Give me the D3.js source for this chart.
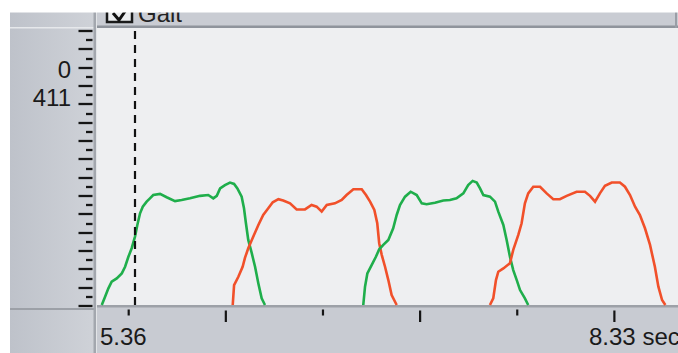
<!DOCTYPE html>
<html><head><meta charset="utf-8">
<script src="https://cdn.jsdelivr.net/npm/d3@7"></script>
<style>html,body{margin:0;padding:0;background:#fff;}svg{display:block;font-family:"Liberation Sans",Arial,sans-serif;}</style>
</head><body>
<svg id="chart" width="678" height="353"></svg>
<script>
// ---- data (time in seconds, amplitude in % of panel height) ----
const xDomain = [5.36, 8.33];
const xEdgeLabels = ["5.36", "8.33 sec"];
const xHalfTicks = [5.5, 6.0, 6.5, 7.0, 7.5, 8.0];
const rulerTicks = d3.range(0, 31);
const yLabels = ["0", "411"];
const yLabelAt = [26, 23];
const headerTitle = "Gait";
const cursorTime = 5.535;

const greenT1 = [5.364,5.381,5.398,5.415,5.441,5.467,5.484,5.501,5.518,5.535,5.547,5.561,5.575,5.595,5.612,5.629,5.664,5.698,5.741,5.775,5.818,5.870,5.912,5.938,5.956,5.973,5.998,6.024,6.045,6.062,6.084,6.096,6.106,6.118,6.136,6.153,6.170,6.187,6.204];
const greenV1 = [0,3.0,6.0,8.4,9.6,11.4,13.8,17.4,20.5,24.7,28.9,33.1,35.5,37.3,38.5,39.7,40.1,38.9,37.5,37.9,38.5,39.4,39.7,38.5,39.4,42.1,43.3,44.2,43.7,42.1,39.1,34.9,29.5,23.5,18.7,13.8,7.8,2.4,0];
const redT1 = [6.038,6.045,6.067,6.089,6.101,6.118,6.144,6.170,6.195,6.221,6.244,6.273,6.298,6.333,6.367,6.410,6.444,6.470,6.496,6.522,6.564,6.599,6.624,6.659,6.702,6.724,6.745,6.767,6.782,6.792,6.805,6.822,6.839,6.856,6.882];
const redV1 = [0,7.2,10.2,13.8,17.0,20.5,24.7,28.9,32.5,34.9,37.1,38.2,37.7,36.7,34.5,34.5,36.1,35.5,33.7,36.1,36.7,37.9,39.7,41.8,41.8,39.7,37.3,34.3,29.5,22.3,18.1,13.8,9.0,3.6,0];
const greenT2 = [6.710,6.719,6.731,6.753,6.775,6.792,6.813,6.839,6.864,6.882,6.899,6.925,6.954,6.985,7.011,7.036,7.079,7.122,7.156,7.190,7.225,7.250,7.273,7.294,7.311,7.328,7.362,7.388,7.405,7.431,7.448,7.465,7.482,7.500,7.517,7.542,7.559];
const greenV2 = [0,6.6,11.4,14.4,17.4,20.1,21.7,23.5,27.7,32.5,36.1,39.1,40.9,39.7,36.7,36.4,36.9,37.7,37.9,38.5,40.3,43.3,44.8,44.2,42.1,39.7,39.1,37.3,33.7,28.9,23.5,17.4,12.6,9.0,5.4,2.4,0];
const redT2 = [7.362,7.379,7.393,7.405,7.431,7.465,7.482,7.508,7.525,7.542,7.559,7.585,7.620,7.654,7.688,7.722,7.757,7.808,7.851,7.877,7.903,7.928,7.954,7.989,8.031,8.057,8.083,8.109,8.134,8.160,8.186,8.211,8.229,8.248,8.265];
const redV2 = [0,2.4,9.0,12.0,13.2,15.1,19.9,25.3,29.5,36.7,40.3,42.7,42.7,40.3,38.2,38.2,39.4,40.9,40.9,39.4,37.3,40.3,43.0,44.2,44.2,42.7,39.7,35.5,32.5,27.7,21.7,13.8,6.6,1.8,0];

const seriesList = [
  {t: greenT1, v: greenV1, color: "#1fae4b"},
  {t: redT1, v: redV1, color: "#f1502a"},
  {t: greenT2, v: greenV2, color: "#1fae4b"},
  {t: redT2, v: redV2, color: "#f1502a"}
];

// ---- layout ----
const svg = d3.select("#chart");
const W = 678, H = 353;
const plot = {left: 97, top: 28, right: 678, bottom: 305};

const x = d3.scaleLinear().domain(xDomain).range([101, 678]);
const y = d3.scaleLinear().domain([0, 100]).range([plot.bottom, plot.top]);
const ruler = d3.scaleLinear().domain([0, 30]).range([306, 31]);

const defs = svg.append("defs");
const grad = defs.append("linearGradient").attr("id", "lp").attr("x1", 0).attr("x2", 1).attr("y1", 0).attr("y2", 0);
grad.append("stop").attr("offset", 0).attr("stop-color", "#bec2ca");
grad.append("stop").attr("offset", 1).attr("stop-color", "#cfd2d8");
const clip = defs.append("clipPath").attr("id", "pc");
clip.append("rect").attr("x", plot.left).attr("y", plot.top).attr("width", plot.right - plot.left).attr("height", plot.bottom - plot.top + 1);

svg.append("rect").attr("width", W).attr("height", H).attr("fill", "#fff");
// left panel
svg.append("rect").attr("x", 10).attr("y", 12).attr("width", 85).attr("height", H - 12).attr("fill", "url(#lp)");
svg.append("rect").attr("x", 10).attr("y", 27).attr("width", 84).attr("height", 1.5).attr("fill", "#e6e8eb");
svg.append("rect").attr("x", 10).attr("y", 308).attr("width", 85).attr("height", 2).attr("fill", "#9ca0a7");
// header bar
svg.append("rect").attr("x", plot.left).attr("y", 0).attr("width", W - plot.left).attr("height", 28).attr("fill", "#c9ccd3");
svg.append("rect").attr("x", plot.left).attr("y", 25.5).attr("width", W - plot.left).attr("height", 2.5).attr("fill", "#8f949c");
svg.append("rect").attr("x", 675).attr("y", 0).attr("width", 2).attr("height", 28).attr("fill", "#9a9ea6");
// checkbox + title
svg.append("rect").attr("x", 107).attr("y", -4).attr("width", 25).attr("height", 26)
  .attr("fill", "#eceef0").attr("stroke", "#1a1a1a").attr("stroke-width", 2.5);
svg.append("path").attr("d", "M113,13 L119,20 L126,10").attr("fill", "none").attr("stroke", "#111").attr("stroke-width", 3);
svg.append("text").attr("x", 138).attr("y", 22).attr("font-size", 24).attr("fill", "#222").text(headerTitle);
// plot background
svg.append("rect").attr("x", plot.left).attr("y", plot.top).attr("width", W - plot.left).attr("height", plot.bottom - plot.top).attr("fill", "#eeeff1");
// bottom band
svg.append("rect").attr("x", plot.left).attr("y", 305).attr("width", W - plot.left).attr("height", H - 305).attr("fill", "#c8cbd2");
svg.append("rect").attr("x", plot.left).attr("y", 305).attr("width", W - plot.left).attr("height", 2.5).attr("fill", "#9da1a8");
// separator
svg.append("rect").attr("x", 93.5).attr("y", 12).attr("width", 2.5).attr("height", H - 12).attr("fill", "#a3a7ae");
svg.append("rect").attr("x", 96).attr("y", 12).attr("width", 1).attr("height", H - 12).attr("fill", "#e2e4e7");

// white top margin clipping header
svg.append("rect").attr("x", 0).attr("y", 0).attr("width", W).attr("height", 12.5).attr("fill", "#fff");
svg.append("rect").attr("x", 0).attr("y", 0).attr("width", 10).attr("height", H).attr("fill", "#fff");

// y ruler
const yAxis = d3.axisLeft(ruler).tickValues(rulerTicks).tickSize(14).tickFormat("");
const gy = svg.append("g").attr("transform", "translate(92.5,0)").call(yAxis);
gy.select(".domain").remove();
gy.selectAll(".tick line").attr("stroke", "#151515").attr("stroke-width", 2.3)
  .attr("x2", d => d % 2 === 0 ? -14 : -6.5);
gy.selectAll(".tick").attr("transform", d => `translate(0,${Math.round(ruler(d))})`);

// y labels
svg.selectAll("text.ylab").data(yLabels).join("text").attr("class", "ylab")
  .attr("x", 71).attr("y", (d, i) => ruler(yLabelAt[i]) + 10.5)
  .attr("text-anchor", "end").attr("font-size", 24).attr("fill", "#1a1a1a").text(d => d);

// x axis ticks
const xAxis = d3.axisBottom(x).tickValues(xHalfTicks).tickSize(12).tickFormat("");
const gx = svg.append("g").attr("transform", "translate(0,310)").call(xAxis);
gx.select(".domain").remove();
gx.selectAll(".tick line").attr("stroke", "#151515").attr("stroke-width", 2.2)
  .attr("y1", d => Number.isInteger(d) ? 0.5 : -0.5)
  .attr("y2", d => Number.isInteger(d) ? 12 : 5.5);

// x edge labels
svg.append("text").attr("x", 100).attr("y", 345).attr("font-size", 24).attr("fill", "#1a1a1a").text(xEdgeLabels[0]);
svg.append("text").attr("x", 589).attr("y", 345).attr("font-size", 24).attr("fill", "#1a1a1a").text(xEdgeLabels[1]);

// curves
const line = d3.line().x(d => x(d[0])).y(d => y(d[1]));
const gl = svg.append("g").attr("clip-path", "url(#pc)");
seriesList.forEach(s => {
  gl.append("path").datum(d3.zip(s.t, s.v)).attr("d", line)
    .attr("fill", "none").attr("stroke", s.color).attr("stroke-width", 2.6).attr("stroke-linejoin", "miter");
});

// cursor
svg.append("line").attr("x1", x(cursorTime)).attr("x2", x(cursorTime)).attr("y1", 31).attr("y2", 305)
  .attr("stroke", "#111").attr("stroke-width", 2.2).attr("stroke-dasharray", "8,6");
</script>
</body></html>
